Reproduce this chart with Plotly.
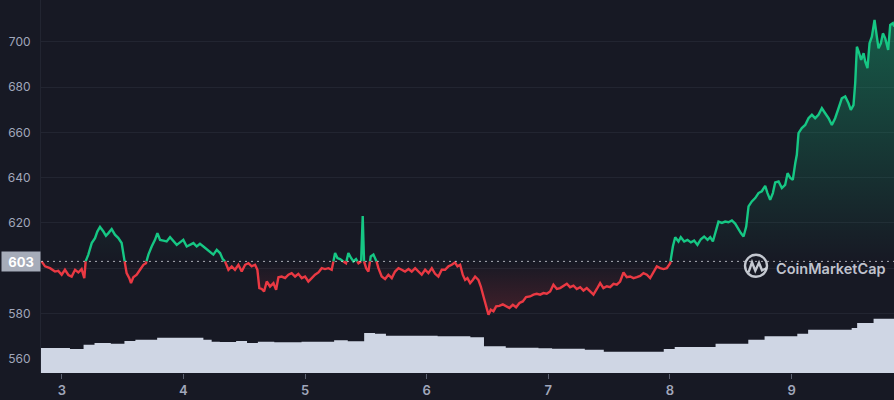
import plotly.graph_objects as go

# ---------------- data ----------------
days = [2.834, 2.862, 2.903, 2.944, 2.971, 2.999, 3.026, 3.054, 3.081, 3.109, 3.136, 3.163, 3.185, 3.196,
        3.218, 3.246, 3.273, 3.292, 3.314, 3.342, 3.363, 3.383, 3.410, 3.437, 3.465, 3.492, 3.506, 3.520,
        3.533, 3.555, 3.569, 3.588, 3.616, 3.643, 3.671, 3.692, 3.712, 3.739, 3.766, 3.786, 3.808, 3.835,
        3.862, 3.890, 3.917, 3.945, 3.972, 3.999, 4.027, 4.054, 4.082, 4.109, 4.136, 4.164, 4.191, 4.219,
        4.246, 4.274, 4.301, 4.323, 4.342, 4.370, 4.397, 4.424, 4.452, 4.479, 4.507, 4.534, 4.561, 4.589,
        4.608, 4.624, 4.644, 4.663, 4.685, 4.712, 4.740, 4.762, 4.781, 4.808, 4.836, 4.863, 4.890, 4.918,
        4.945, 4.973, 5.000, 5.027, 5.055, 5.082, 5.110, 5.137, 5.164, 5.192, 5.219, 5.233, 5.247, 5.266,
        5.288, 5.315, 5.337, 5.356, 5.378, 5.397, 5.419, 5.439, 5.461, 5.469, 5.474, 5.480, 5.485, 5.502,
        5.521, 5.540, 5.562, 5.584, 5.603, 5.630, 5.658, 5.685, 5.713, 5.740, 5.768, 5.795, 5.822, 5.850,
        5.877, 5.905, 5.932, 5.959, 5.987, 6.014, 6.042, 6.069, 6.096, 6.124, 6.151, 6.179, 6.206, 6.233,
        6.253, 6.275, 6.297, 6.316, 6.335, 6.357, 6.379, 6.398, 6.425, 6.445, 6.467, 6.489, 6.508, 6.527,
        6.549, 6.571, 6.598, 6.626, 6.653, 6.680, 6.708, 6.735, 6.763, 6.790, 6.817, 6.850, 6.878, 6.905,
        6.933, 6.960, 6.987, 7.015, 7.042, 7.070, 7.097, 7.124, 7.152, 7.179, 7.207, 7.234, 7.262, 7.289,
        7.316, 7.344, 7.371, 7.399, 7.426, 7.453, 7.481, 7.508, 7.536, 7.563, 7.590, 7.618, 7.645, 7.673,
        7.700, 7.728, 7.755, 7.782, 7.810, 7.837, 7.864, 7.892, 7.919, 7.947, 7.974, 8.002, 8.024, 8.043,
        8.070, 8.089, 8.117, 8.144, 8.172, 8.199, 8.226, 8.254, 8.281, 8.309, 8.331, 8.353, 8.372, 8.399,
        8.427, 8.454, 8.481, 8.509, 8.536, 8.564, 8.583, 8.605, 8.627, 8.646, 8.673, 8.701, 8.728, 8.755,
        8.783, 8.802, 8.824, 8.846, 8.865, 8.893, 8.920, 8.947, 8.967, 8.988, 9.010, 9.030, 9.043, 9.057,
        9.084, 9.112, 9.139, 9.167, 9.194, 9.221, 9.249, 9.276, 9.304, 9.331, 9.358, 9.386, 9.413, 9.441,
        9.468, 9.487, 9.509, 9.523, 9.537, 9.556, 9.572, 9.592, 9.605, 9.624, 9.641, 9.660, 9.682, 9.701,
        9.715, 9.734, 9.751, 9.770, 9.794, 9.811, 9.833, 9.844]

prices = [603.0, 600.8, 600.0, 598.5, 598.8, 597.1, 599.3, 597.0, 596.3, 599.3, 598.1, 599.6, 595.6, 603.0,
          606.0, 611.1, 613.3, 616.2, 618.2, 616.2, 614.3, 615.5, 617.3, 614.8, 613.3, 611.1, 607.4, 601.5,
          597.8, 595.6, 593.4, 596.0, 597.1, 599.3, 601.5, 602.2, 606.0, 609.6, 612.5, 615.5, 612.5, 612.2,
          611.8, 613.7, 611.8, 610.3, 611.4, 612.5, 609.6, 610.3, 611.1, 609.6, 610.8, 609.6, 608.4, 607.4,
          606.0, 608.1, 606.7, 604.0, 603.0, 599.3, 600.8, 599.3, 601.5, 598.5, 601.5, 602.2, 600.8, 601.5,
          599.3, 591.2, 590.8, 589.7, 594.1, 591.9, 593.4, 590.4, 596.0, 596.3, 595.6, 597.1, 597.8, 596.3,
          597.5, 595.6, 596.3, 594.1, 595.6, 597.1, 598.1, 600.0, 599.6, 600.0, 599.3, 603.0, 606.7, 604.5,
          604.0, 603.0, 602.2, 606.7, 604.5, 603.0, 604.0, 602.2, 603.0, 615.0, 623.1, 612.0, 603.0, 600.0,
          598.5, 605.2, 606.0, 603.7, 600.0, 596.3, 595.2, 597.1, 595.6, 598.5, 600.0, 599.3, 598.5, 599.6,
          598.5, 600.0, 598.5, 597.1, 599.3, 597.8, 600.0, 597.5, 596.3, 599.3, 599.3, 600.8, 601.5, 602.5,
          600.8, 601.5, 597.0, 594.8, 595.6, 593.4, 594.8, 596.3, 594.8, 591.9, 587.5, 583.1, 579.4, 581.6,
          580.9, 583.1, 583.3, 584.0, 583.1, 582.4, 583.8, 582.7, 584.6, 585.3, 587.2, 587.5, 588.3, 588.7,
          588.3, 589.0, 588.7, 589.7, 592.7, 590.8, 591.2, 592.0, 593.1, 591.6, 592.3, 590.8, 591.6, 590.1,
          591.2, 589.7, 588.3, 590.8, 593.4, 591.2, 592.0, 591.6, 593.1, 592.7, 594.1, 598.1, 596.0, 596.3,
          595.6, 596.0, 596.6, 597.8, 597.1, 595.6, 598.1, 600.8, 600.0, 599.6, 600.0, 602.2, 609.6, 613.7,
          611.8, 613.7, 611.8, 612.5, 611.4, 612.2, 610.3, 612.8, 614.0, 612.5, 613.7, 611.8, 615.5, 620.6,
          620.0, 620.6, 620.3, 621.1, 619.7, 617.0, 615.5, 614.0, 618.4, 627.3, 629.5, 631.0, 633.2, 634.0,
          636.4, 633.2, 630.2, 633.2, 637.9, 638.3, 635.4, 636.8, 642.0, 640.0, 639.0, 646.4, 650.1, 659.7,
          661.9, 663.3, 666.3, 667.8, 666.3, 667.8, 670.7, 668.5, 666.3, 663.3, 666.3, 670.7, 675.1, 675.9,
          672.9, 670.0, 672.1, 681.8, 697.9, 695.0, 692.1, 695.0, 691.4, 688.4, 699.4, 702.3, 709.7, 702.3,
          697.2, 699.4, 703.8, 701.6, 696.5, 707.5, 708.3, 706.8]

vol_days = [2.829, 3.067, 3.179, 3.269, 3.403, 3.515, 3.605, 3.784, 4.164, 4.232, 4.299, 4.433, 4.523, 4.612,
            4.747, 4.971, 5.239, 5.351, 5.486, 5.575, 5.665, 6.090, 6.359, 6.471, 6.493, 6.650, 6.919, 7.031,
            7.300, 7.456, 7.546, 7.949, 8.039, 8.375, 8.644, 8.778, 9.047, 9.136, 9.494, 9.539, 9.674, 9.844]
vol_values = [1.50, 1.44, 1.70, 1.80, 1.76, 1.92, 2.00, 2.12, 2.00, 1.88, 1.86, 1.92, 1.80, 1.88,
              1.84, 1.88, 1.96, 1.90, 2.40, 2.36, 2.24, 2.20, 2.14, 1.60, 1.60, 1.52, 1.48, 1.46,
              1.40, 1.28, 1.28, 1.44, 1.56, 1.76, 2.00, 2.20, 2.36, 2.60, 2.70, 3.00, 3.26, 3.26]

baseline = 603
y_ticks = [560, 580, 600, 620, 640, 660, 680, 700]
y_labels = ["560", "580", "", "620", "640", "660", "680", "700"]
x_ticks = [3, 4, 5, 6, 7, 8, 9]
x_labels = ["3", "4", "5", "6", "7", "8", "9"]

# ---------------- styles ----------------
BG = "#171924"
GRID = "#222531"
GREEN = "#16c784"
RED = "#ea3943"
LABEL = "#a1a7bb"
LW = 2.4

# insert baseline crossings so colours switch exactly at the baseline
xs, ys = [], []
for i in range(len(days)):
    if i > 0 and (prices[i - 1] - baseline) * (prices[i] - baseline) < 0:
        t = (baseline - prices[i - 1]) / (prices[i] - prices[i - 1])
        xs.append(days[i - 1] + t * (days[i] - days[i - 1]))
        ys.append(baseline)
    xs.append(days[i])
    ys.append(prices[i])

up_line = [y if y >= baseline else None for y in ys]
dn_line = [y if y <= baseline else None for y in ys]
up_fill = [max(y, baseline) for y in ys]
dn_fill = [min(y, baseline) for y in ys]
base_arr = [baseline] * len(xs)

fig = go.Figure()
fig.add_trace(go.Scatter(x=xs, y=base_arr, mode="lines", line=dict(width=0), hoverinfo="skip", showlegend=False))
fig.add_trace(go.Scatter(x=xs, y=up_fill, mode="lines", line=dict(width=0), fill="tonexty",
                         fillgradient=dict(type="vertical", start=baseline, stop=710,
                                           colorscale=[[0, "rgba(22,199,132,0.0)"], [1, "rgba(22,199,132,0.38)"]]),
                         hoverinfo="skip", showlegend=False))
fig.add_trace(go.Scatter(x=xs, y=base_arr, mode="lines", line=dict(width=0), hoverinfo="skip", showlegend=False))
fig.add_trace(go.Scatter(x=xs, y=dn_fill, mode="lines", line=dict(width=0), fill="tonexty",
                         fillgradient=dict(type="vertical", start=578, stop=baseline,
                                           colorscale=[[0, "rgba(234,57,67,0.22)"], [1, "rgba(234,57,67,0.0)"]]),
                         hoverinfo="skip", showlegend=False))
fig.add_trace(go.Scatter(x=xs, y=up_line, mode="lines", line=dict(color=GREEN, width=LW),
                         connectgaps=False, showlegend=False))
fig.add_trace(go.Scatter(x=xs, y=dn_line, mode="lines", line=dict(color=RED, width=LW),
                         connectgaps=False, showlegend=False))
fig.add_trace(go.Scatter(x=vol_days, y=vol_values, yaxis="y2", mode="lines", line=dict(width=0, shape="hv"),
                         fill="tozeroy", fillcolor="#cfd6e4", showlegend=False))

# baseline dotted line
fig.add_shape(type="line", xref="paper", x0=0, x1=1, yref="y", y0=baseline, y1=baseline,
              line=dict(color="rgba(220,223,230,0.75)", width=1, dash="2px,4px"), layer="above")

# baseline label
fig.add_annotation(xref="paper", x=0, xanchor="right", yref="y", y=baseline, yanchor="middle",
                   text="<b>603</b>", showarrow=False, font=dict(family="Inter", size=13, color="white"),
                   bgcolor="#a6acb9", width=32, height=13, borderpad=3, xshift=-0.5)

# watermark (pixel -> paper helpers)
PL, PR, PB = 41, 894, 373.3
def px(x):
    return (x - PL) / (PR - PL)
def py(y):
    return (PB - y) / PB

WM = "rgba(214,218,226,0.9)"
fig.add_annotation(xref="paper", yref="paper", x=px(774), y=py(269), xanchor="left", yanchor="middle",
                   text="CoinMarketCap", showarrow=False,
                   font=dict(family="Inter", size=14.5, color=WM, weight=600))
fig.add_shape(type="circle", xref="paper", yref="paper", x0=px(745), x1=px(767), y0=py(277), y1=py(255),
              line=dict(color=WM, width=2.4))
path_pts = [(748.5, 272.5), (752, 262.5), (755.3, 271), (759, 263), (762, 270.5), (766.5, 268.5)]
path = "M " + " L ".join(f"{px(a):.5f},{py(b):.5f}" for a, b in path_pts)
fig.add_shape(type="path", xref="paper", yref="paper", path=path, line=dict(color=WM, width=2.4))

fig.update_layout(
    width=894, height=400,
    margin=dict(l=41, r=0, t=0, b=27),
    paper_bgcolor=BG, plot_bgcolor=BG,
    showlegend=False,
    xaxis=dict(range=[2.829, 9.842], tickvals=x_ticks, ticktext=x_labels, showgrid=False, zeroline=False,
               ticks="outside", ticklen=5, tickcolor="#5b6070", tickwidth=1,
               tickfont=dict(family="Inter", size=13, color=LABEL, weight=600), showline=False),
    yaxis=dict(range=[553.66, 718.55], tickvals=y_ticks, ticktext=y_labels, showgrid=True, gridcolor=GRID,
               gridwidth=1, zeroline=False, showline=True, linecolor=GRID, linewidth=1, ticks="",
               ticklabelstandoff=7, tickfont=dict(family="Inter", size=12, color=LABEL)),
    yaxis2=dict(range=[0, 22.4], overlaying="y", visible=False),
)

fig.write_html("out.html", config={"displayModeBar": False},
               post_script="document.body.style.margin='0px';document.body.style.background='#171924';")
